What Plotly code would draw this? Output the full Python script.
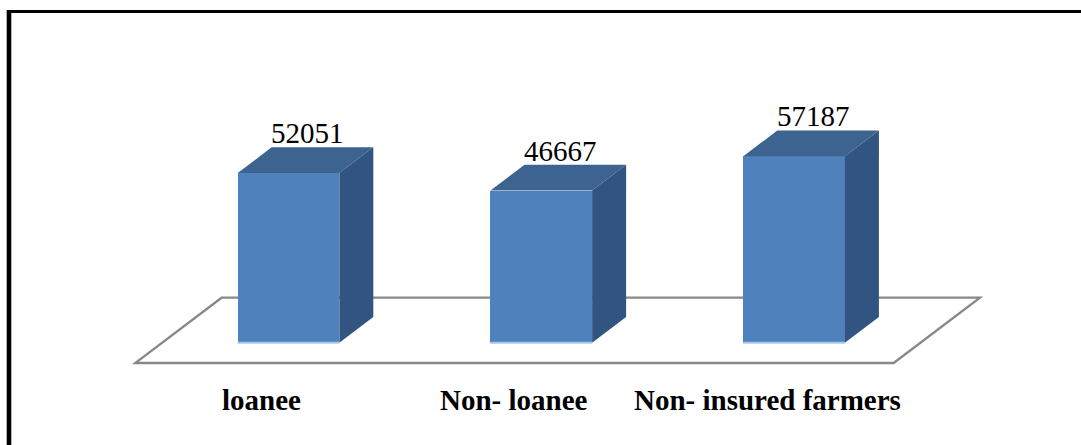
import plotly.graph_objects as go

# Data
categories = ["loanee", "Non- loanee", "Non- insured farmers"]
values = [52051, 46667, 57187]

# Figure / projection geometry (pixels)
W, H = 1081, 445
CAT_STEP_PX = 252.8          # distance between category centres
FIRST_CENTER_PX = 288.5      # front-face centre of first bar
BASE_PX = 342.7              # pixel row of value 0 on the front plane
PX_PER_UNIT = 0.00326        # vertical pixels per data unit
DEPTH_DX_PX, DEPTH_DY_PX = 34.0, 25.7   # oblique depth of a bar
FLOOR_FRONT, FLOOR_BACK = -0.79, 1.75   # floor extent in bar-depth units
BAR_WIDTH = 0.402

FRONT = "#4F81BD"
TOP = "#3D6490"
SIDE = "#325480"
FLOOR_LINE = "#888888"

# Axis ranges so that data units land on the pixel grid above
x_range = [-FIRST_CENTER_PX / CAT_STEP_PX, (W - FIRST_CENTER_PX) / CAT_STEP_PX]
y_range = [-(H - BASE_PX) / PX_PER_UNIT, BASE_PX / PX_PER_UNIT]

ddx = DEPTH_DX_PX / CAT_STEP_PX        # depth offset in category units
ddy = DEPTH_DY_PX / PX_PER_UNIT        # depth offset in value units

xs = list(range(len(categories)))

fig = go.Figure()
fig.add_trace(go.Bar(
    x=xs, y=values, width=BAR_WIDTH,
    marker=dict(color=FRONT, line=dict(width=0)),
    hoverinfo="skip", showlegend=False,
))

shapes = []

# Floor parallelogram
fx0 = -0.5 + FLOOR_FRONT * ddx
fx1 = len(categories) - 0.5 + FLOOR_FRONT * ddx
fy0 = FLOOR_FRONT * ddy
bx0 = -0.5 + FLOOR_BACK * ddx
bx1 = len(categories) - 0.5 + FLOOR_BACK * ddx
by0 = FLOOR_BACK * ddy
shapes.append(dict(
    type="path", xref="x", yref="y", layer="below",
    path=f"M{fx0},{fy0} L{fx1},{fy0} L{bx1},{by0} L{bx0},{by0} Z",
    line=dict(color=FLOOR_LINE, width=2.3), fillcolor="rgba(0,0,0,0)",
))

for x, v in zip(xs, values):
    l, r = x - BAR_WIDTH / 2, x + BAR_WIDTH / 2
    # top face
    shapes.append(dict(
        type="path", xref="x", yref="y", layer="above",
        path=f"M{l},{v} L{r},{v} L{r + ddx},{v + ddy} L{l + ddx},{v + ddy} Z",
        fillcolor=TOP, line=dict(width=0),
    ))
    # right side face
    shapes.append(dict(
        type="path", xref="x", yref="y", layer="above",
        path=f"M{r},0 L{r},{v} L{r + ddx},{v + ddy} L{r + ddx},{ddy} Z",
        fillcolor=SIDE, line=dict(width=0),
    ))
    # light edge along the bottom of the front face
    shapes.append(dict(
        type="line", xref="x", yref="y", layer="above",
        x0=l, x1=r, y0=0, y1=0,
        line=dict(color="#A9C6EA", width=2),
    ))

# Chart frame (top and left edges)
shapes.append(dict(type="line", xref="paper", yref="paper",
                   x0=7 / W, x1=1.0, y0=1 - 11.5 / H, y1=1 - 11.5 / H,
                   line=dict(color="black", width=3)))
shapes.append(dict(type="line", xref="paper", yref="paper",
                   x0=9 / W, x1=9 / W, y0=1 - 10 / H, y1=0,
                   line=dict(color="black", width=4.6)))

annotations = []
for x, v in zip(xs, values):
    annotations.append(dict(
        x=x + ddx * 0.56, y=v, xref="x", yref="y",
        text=f"{v}", showarrow=False, yanchor="middle", yshift=40,
        font=dict(family="Liberation Serif", size=29, color="black"),
    ))
for x, name in zip(xs, categories):
    annotations.append(dict(
        x=x + FLOOR_FRONT * ddx, y=fy0, xref="x", yref="y",
        text=f"<b>{name}</b>", showarrow=False, yanchor="middle", yshift=-37,
        font=dict(family="Liberation Serif", size=29, color="black"),
    ))

fig.update_layout(
    width=W, height=H,
    margin=dict(l=0, r=0, t=0, b=0),
    paper_bgcolor="white", plot_bgcolor="white",
    xaxis=dict(range=x_range, visible=False, fixedrange=True),
    yaxis=dict(range=y_range, visible=False, fixedrange=True),
    shapes=shapes, annotations=annotations,
    bargap=0, showlegend=False,
)

fig.write_html("out.html")
